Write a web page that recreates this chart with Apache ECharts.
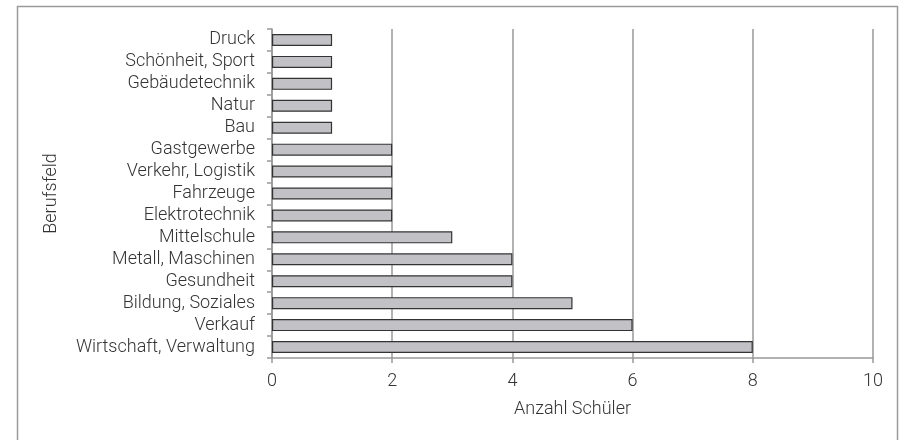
<!DOCTYPE html>
<html>
<head>
<meta charset="utf-8">
<script src="https://cdn.jsdelivr.net/npm/echarts@6/dist/echarts.min.js"></script>
<style>
  html, body { margin: 0; padding: 0; background: #fff; }
  #chart { width: 908px; height: 440px; }
</style>
</head>
<body>
<div id="chart"></div>
<script>
// Berufsfeld, von oben nach unten
var categories = ['Druck', 'Schönheit, Sport', 'Gebäudetechnik', 'Natur', 'Bau',
    'Gastgewerbe', 'Verkehr, Logistik', 'Fahrzeuge', 'Elektrotechnik', 'Mittelschule',
    'Metall, Maschinen', 'Gesundheit', 'Bildung, Soziales', 'Verkauf', 'Wirtschaft, Verwaltung'];
var schueler = [1, 1, 1, 1, 1, 2, 2, 2, 2, 3, 4, 4, 5, 6, 8];
var xTicks = [0, 2, 4, 6, 8, 10];

var chart = echarts.init(document.getElementById('chart'));
var txt = { fontFamily: 'Roboto', fontWeight: 300, fontSize: 18, color: '#333' };
var option = {
    animation: false,
    textStyle: { fontFamily: 'Roboto', fontWeight: 300 },
    graphic: [{
        type: 'rect',
        shape: { x: 17.5, y: 6.5, width: 880, height: 450 },
        style: { fill: 'none', stroke: '#9a9a9a', lineWidth: 1.5 },
        silent: true
    }],
    grid: { left: 272, right: 35, top: 29, bottom: 82 },
    xAxis: {
        type: 'value',
        min: xTicks[0],
        max: xTicks[xTicks.length - 1],
        interval: 2,
        name: 'Anzahl Schüler',
        nameLocation: 'middle',
        nameGap: 42,
        nameTextStyle: txt,
        axisLine: { show: true, lineStyle: { color: '#999', width: 1.5 } },
        axisTick: { show: true, length: 5, lineStyle: { color: '#999', width: 1.5 } },
        axisLabel: Object.assign({ margin: 14 }, txt),
        splitLine: { show: true, lineStyle: { color: '#999', width: 1.5 } }
    },
    yAxis: {
        type: 'category',
        data: categories,
        inverse: true,
        name: 'Berufsfeld',
        nameLocation: 'middle',
        nameGap: 212,
        nameTextStyle: txt,
        axisLine: { show: true, lineStyle: { color: '#999', width: 1.5 } },
        axisTick: { show: true, length: 5, alignWithLabel: false, lineStyle: { color: '#999', width: 1.5 } },
        axisLabel: Object.assign({ margin: 17, interval: 0 }, txt),
        splitLine: { show: false }
    },
    series: [{
        type: 'bar',
        data: schueler,
        barWidth: 12,
        itemStyle: { color: '#c2c2c6', borderColor: '#333', borderWidth: 1.2 }
    }]
};
chart.setOption(option);
</script>
</body>
</html>
